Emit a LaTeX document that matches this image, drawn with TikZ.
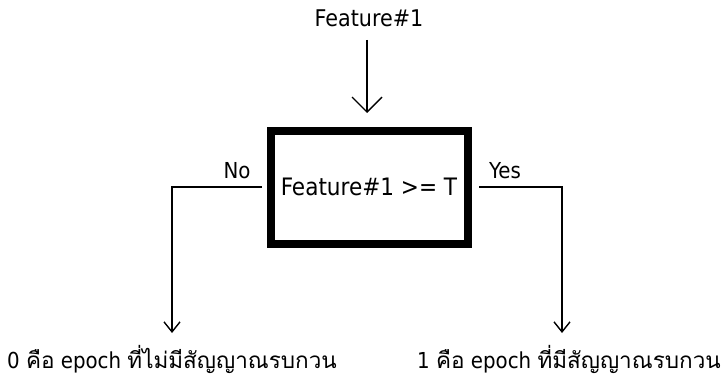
\documentclass[tikz,border=0pt]{standalone}
\usepackage{fontspec}
\setmainfont{DejaVu Sans Condensed}
\newfontfamily\thaifont[Script=Thai]{Loma}
\newcommand{\thaitext}[1]{{\thaifont\fontsize{22.5}{27}\selectfont #1}}
\usetikzlibrary{arrows.meta}
\begin{document}
\begin{tikzpicture}[x=1pt,y=-1pt,
  lbl/.style={inner sep=0pt,font=\fontsize{22}{26}\selectfont},
  conn/.style={line width=1.4pt},
  bigtip/.style={-{Straight Barb[length=15pt,width=30pt,line width=1.4pt]}},
  smalltip/.style={-{Straight Barb[length=10pt,width=16pt,line width=1.4pt]}},
  testbox/.style={draw,line width=8pt,minimum width=197pt,minimum height=113pt,inner sep=0pt}]
\useasboundingbox (0,0) rectangle (722,379);
\node[lbl,font=\fontsize{23}{27}\selectfont] (feat) at (369,18) {Feature\#1};
\node[testbox] (test) at (369.5,187.5) {};
\node[lbl,font=\fontsize{24}{28}\selectfont] (cond) at (369,187) {Feature\#1 >= T};
\coordinate (topin) at (367,40);
\coordinate (topout) at (367,113);
\node[lbl] (no) at (237,171) {No};
\node[lbl] (yes) at (505,171) {Yes};
\coordinate (lstart) at (262,187);
\coordinate (lcorner) at (172,187);
\coordinate (ltip) at (172,333);
\coordinate (rstart) at (479,187);
\coordinate (rcorner) at (562,187);
\coordinate (rtip) at (562,333);
\node[lbl] (zero) at (172,359) {0 \thaitext{คือ} epoch \thaitext{ที่ไม่มีสัญญาณรบกวน}};
\node[lbl] (one) at (569,359) {1 \thaitext{คือ} epoch \thaitext{ที่มีสัญญาณรบกวน}};
\draw[conn,bigtip] (topin) -- (topout);
\draw[conn,smalltip] (lstart) -- (lcorner) -- (ltip);
\draw[conn,smalltip] (rstart) -- (rcorner) -- (rtip);
\end{tikzpicture}
\end{document}
